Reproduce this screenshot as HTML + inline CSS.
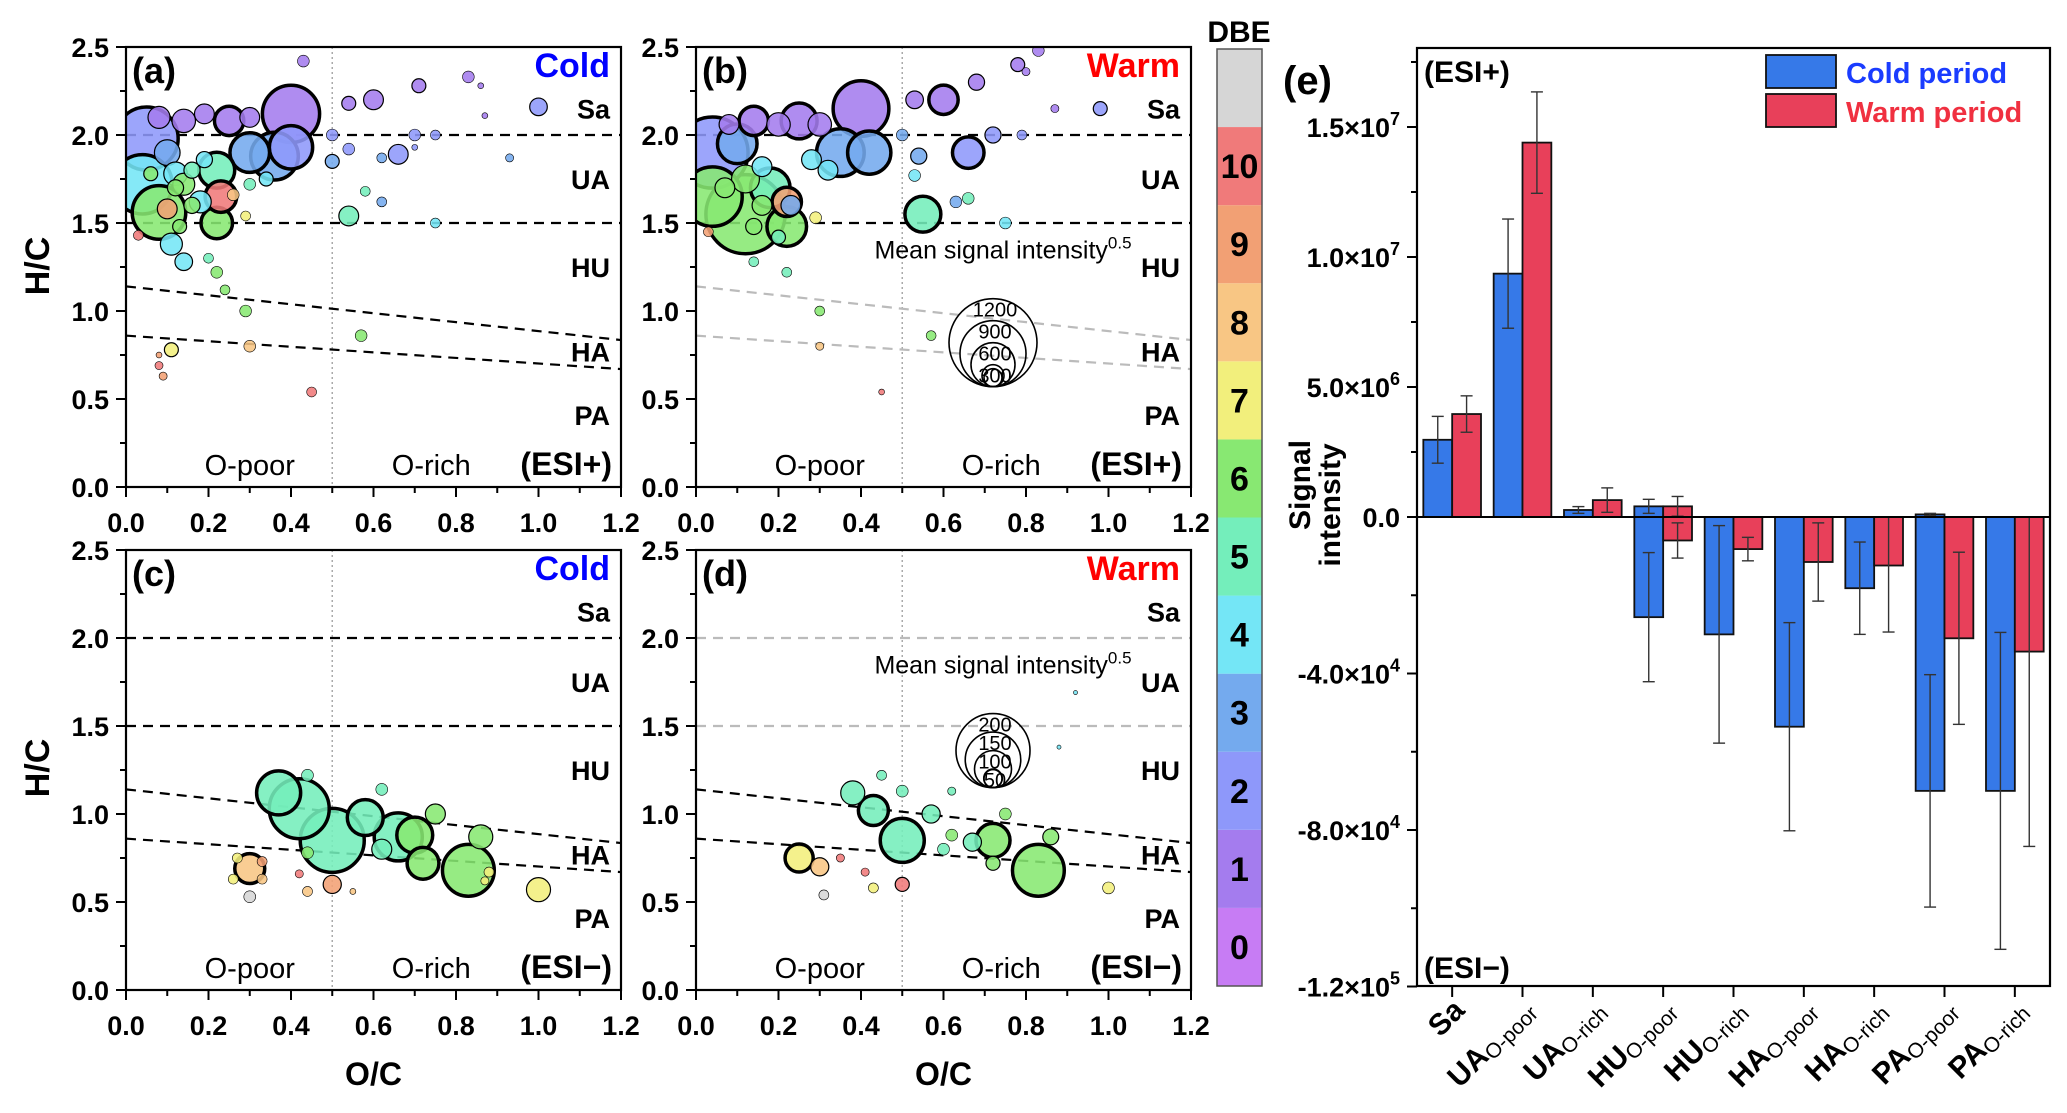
<!DOCTYPE html>
<html><head><meta charset="utf-8">
<style>
html,body{margin:0;padding:0;background:#fff;}
svg{display:block;font-family:"Liberation Sans",Arial,sans-serif;}
.tk{font-size:27px;font-weight:bold;fill:#000;}
.rl{font-size:27px;font-weight:bold;fill:#000;}
</style></head>
<body>
<svg id="fig" width="2067" height="1113" viewBox="0 0 2067 1113" xmlns="http://www.w3.org/2000/svg">
<rect width="2067" height="1113" fill="#fff"/>
</svg>
<script>
// ---------- Scatter data (O/C, H/C, mean signal intensity^0.5, DBE) ----------
const aOC=[0.05,0.04,0.08,0.40,0.36,0.40,0.30,0.22,0.22,0.25,0.10,0.23,0.14,0.08,0.19,0.30,0.12,0.18,0.11,0.14,0.14,0.10,0.54,0.66,1.00,0.60,0.54,0.71,0.83,0.43,0.50,0.34,0.30,0.26,0.29,0.22,0.29,0.24,0.20,0.11,0.30,0.57,0.45,0.03,0.08,0.09,0.08,0.62,0.58,0.75,0.70,0.75,0.50,0.54,0.62,0.93,0.70,0.86,0.87,0.19,0.16,0.06,0.12,0.16,0.13];
const aHC=[1.98,1.72,1.56,2.12,1.88,1.93,1.90,1.80,1.50,2.08,1.90,1.65,2.08,2.10,2.12,2.10,1.78,1.62,1.38,1.28,1.72,1.58,1.54,1.89,2.16,2.20,2.18,2.28,2.33,2.42,1.85,1.75,1.72,1.66,1.54,1.22,1.00,1.12,1.30,0.78,0.80,0.86,0.54,1.43,0.69,0.63,0.75,1.62,1.68,1.50,2.00,2.00,2.00,1.92,1.87,1.87,1.93,2.28,2.11,1.86,1.80,1.78,1.70,1.60,1.48];
const aVal=[860,810,730,780,650,590,540,490,430,400,350,430,320,300,270,270,320,300,300,240,300,270,270,270,240,270,190,190,160,160,190,190,160,160,135,160,160,135,135,190,160,160,135,135,110,110,80,135,135,135,160,135,160,160,135,110,80,80,80,220,220,190,220,220,190];
const aDBE=[2,4,6,1,3,2,3,5,6,1,3,10,1,1,1,1,4,4,4,4,6,9,5,2,2,1,1,1,1,1,3,4,5,8,7,6,6,6,5,7,8,6,10,10,10,9,9,3,5,4,2,2,2,2,3,3,2,1,1,4,5,6,6,6,6];

const bOC=[0.04,0.12,0.04,0.40,0.35,0.42,0.22,0.18,0.25,0.14,0.10,0.22,0.23,0.12,0.55,0.66,0.60,0.53,0.68,0.78,0.83,0.80,0.87,0.98,0.50,0.72,0.79,0.54,0.53,0.66,0.75,0.63,0.29,0.03,0.30,0.57,0.30,0.22,0.14,0.45,0.30,0.20,0.08,0.32,0.28,0.16,0.07,0.16,0.14,0.20];
const bHC=[1.90,1.55,1.65,2.15,1.90,1.90,1.48,1.70,2.08,2.08,1.95,1.62,1.60,1.75,1.55,1.90,2.20,2.20,2.30,2.40,2.48,2.36,2.15,2.15,2.00,2.00,2.00,1.88,1.77,1.64,1.50,1.62,1.53,1.45,0.80,0.86,1.00,1.22,1.28,0.54,2.06,2.06,2.06,1.80,1.86,1.82,1.70,1.60,1.48,1.42];
const bVal=[970,1080,810,760,650,590,540,540,490,400,540,400,270,380,490,430,400,240,220,190,160,110,110,190,160,220,135,220,160,160,160,160,160,135,110,135,135,135,135,80,320,320,270,270,270,270,270,270,220,190];
const bDBE=[2,6,6,1,3,3,6,5,1,1,3,9,3,6,5,2,1,1,1,1,1,1,1,2,3,2,2,3,4,5,4,3,7,9,8,6,6,5,5,10,1,1,1,4,4,4,6,6,6,5];

const cOC=[0.37,0.42,0.50,0.58,0.66,0.70,0.72,0.83,0.86,0.75,0.62,0.30,1.00,0.50,0.30,0.27,0.26,0.33,0.33,0.44,0.42,0.44,0.55,0.62,0.44,0.88,0.87];
const cHC=[1.12,1.03,0.85,0.98,0.87,0.88,0.72,0.68,0.87,1.00,0.80,0.69,0.57,0.60,0.53,0.75,0.63,0.63,0.73,0.78,0.66,0.56,0.56,1.14,1.22,0.67,0.62];
const cVal=[119,162,173,97,130,97,86,140,65,54,54,81,65,49,32,27,27,27,27,32,22,27,16,32,32,27,22];
const cDBE=[5,5,5,5,5,6,6,6,6,6,5,8,7,9,11,7,7,8,9,6,10,8,8,5,5,7,7];

const dOC=[0.38,0.43,0.50,0.57,0.72,0.83,0.67,0.25,0.30,0.50,0.31,1.00,0.75,0.50,0.45,0.62,0.62,0.86,0.72,0.60,0.35,0.41,0.43,0.92,0.88];
const dHC=[1.12,1.02,0.85,1.00,0.85,0.68,0.84,0.75,0.70,0.60,0.54,0.58,1.00,1.13,1.22,1.13,0.88,0.87,0.72,0.80,0.75,0.67,0.58,1.69,1.38];
const dVal=[65,81,119,49,92,140,49,76,49,38,27,32,32,32,27,22,32,43,38,32,22,22,27,11,11];
const dDBE=[5,5,5,5,6,6,5,7,8,10,11,7,6,5,5,5,6,6,6,5,10,10,7,4,4];

const sizeLegendPos=[1200,900,600,300];
const sizeLegendNeg=[200,150,100,50];
const xTicks=[0,0.2,0.4,0.6,0.8,1.0,1.2];
const yTicks=[0,0.5,1.0,1.5,2.0,2.5];
const dbeLevels=[0,1,2,3,4,5,6,7,8,9,10];

// ---------- Bar data ----------
const barCats=["Sa","UA","UA","HU","HU","HA","HA","PA","PA"];
const barSubs=["","O-poor","O-rich","O-poor","O-rich","O-poor","O-rich","O-poor","O-rich"];
const posCold=[2.97e6,9.36e6,0.27e6,0.41e6,0,0,0,0.10e6,0];
const posColdErr=[0.9e6,2.1e6,0.13e6,0.27e6,0,0,0,0.04e6,0];
const posWarm=[3.96e6,14.4e6,0.65e6,0.41e6,0,0,0,0,0];
const posWarmErr=[0.7e6,1.95e6,0.47e6,0.38e6,0,0,0,0,0];
const negCold=[0,0,0,2.56e4,3.0e4,5.36e4,1.82e4,7.0e4,7.0e4];
const negColdErr=[0,0,0,1.65e4,2.78e4,2.66e4,1.18e4,2.97e4,4.05e4];
const negWarm=[0,0,0,0.6e4,0.82e4,1.15e4,1.24e4,3.1e4,3.44e4];
const negWarmErr=[0,0,0,0.45e4,0.3e4,1.0e4,1.7e4,2.2e4,4.98e4];
const posTicks=[5e6,1e7,1.5e7];
const posTickLabels=["5.0×10","1.0×10","1.5×10"];
const posTickExp=["6","7","7"];
const negTicks=[4e4,8e4,1.2e5];
const negTickLabels=["-4.0×10","-8.0×10","-1.2×10"];
const negTickExp=["4","4","5"];

const DBE_COL=["#c77cf4","#a47cee","#8e98fa","#74aaee","#74e6f6","#74eebb","#88e872","#f2ef7c","#f8c684","#f2a074","#f07a7a","#d6d6d6"];
const NS="http://www.w3.org/2000/svg";
const svg=document.getElementById('fig');
function mk(tag,attrs,parent,text){const e=document.createElementNS(NS,tag);for(const k in attrs)e.setAttribute(k,attrs[k]);if(text!==undefined)e.textContent=text;(parent||svg).appendChild(e);return e;}

function panel(cfg){
  const {x0,x1,yT,yB,oc,hc,val,dbe,rk,id,period,periodCol,esi,letter,grayTop,grayLow,legend,legendY,showXTitle}=cfg;
  const g=mk('g',{}, svg);
  
  
  const X=v=>x0+v/1.2*(x1-x0), Y=v=>yB-v/2.5*(yB-yT);
  const cid='clip'+id;
  const cp=mk('clipPath',{id:cid},g); mk('rect',{x:x0,y:yT,width:x1-x0,height:yB-yT},cp);
  const dv=mk('line',{x1:X(0.5),y1:yT,x2:X(0.5),y2:yB,stroke:'#aaa','stroke-width':1.5,'stroke-dasharray':'2,3'},g);
   
  const bl=[[0,2.0,1.2,2.0,grayTop],[0,1.5,1.2,1.5,grayTop],[0,1.14,1.2,0.835,grayLow],[0,0.86,1.2,0.67,grayLow]];
  bl.forEach((b,i)=>{const l=mk('line',{x1:X(b[0]),y1:Y(b[1]),x2:X(b[2]),y2:Y(b[3]),stroke:b[4]?'#bbb':'#000','stroke-width':2.2,'stroke-dasharray':'10,7'},g);
     });
  const bg=mk('g',{'clip-path':'url(#'+cid+')'},g);
  const idx=oc.map((_,i)=>i).sort((p,q)=>val[q]-val[p]);
  idx.forEach(i=>{const r=val[i]*rk;
    const c=mk('circle',{cx:X(oc[i]),cy:Y(hc[i]),r:r,fill:DBE_COL[dbe[i]],'fill-opacity':0.88,stroke:'#000','stroke-width':r>14?3.5:(r>6?1.2:0.6)},bg);
     });
  const fr=mk('rect',{x:x0,y:yT,width:x1-x0,height:yB-yT,fill:'none',stroke:'#000','stroke-width':2.2},g);
   
  for(let k=0;k<=12;k++){const v=k*0.1;const L=k%2==0?10:6;mk('line',{x1:X(v),y1:yB,x2:X(v),y2:yB+L,stroke:'#000','stroke-width':2},g);}
  for(let k=0;k<=10;k++){const v=k*0.25;const L=k%2==0?10:6;mk('line',{x1:x0-L,y1:Y(v),x2:x0,y2:Y(v),stroke:'#000','stroke-width':2},g);}
  xTicks.forEach(v=>{const t=mk('text',{x:X(v),y:yB+45,'text-anchor':'middle',class:'tk'},g,v.toFixed(1));});
  yTicks.forEach(v=>{const t=mk('text',{x:x0-17,y:Y(v)+10,'text-anchor':'end',class:'tk'},g,v.toFixed(1));});
  const lt=mk('text',{x:x0+6,y:yT+36,'font-size':36,'font-weight':'bold'},g,'('+letter+')');
  const pt=mk('text',{x:x1-11,y:yT+30,'text-anchor':'end','font-size':34,'font-weight':'bold',fill:periodCol},g,period);
  [['Sa',2.15],['UA',1.75],['HU',1.25],['HA',0.77],['PA',0.41]].forEach(r=>{const t=mk('text',{x:x1-11,y:Y(r[1])+10,'text-anchor':'end',class:'rl'},g,r[0]);});
  const et=mk('text',{x:x1-9,y:yB-12,'text-anchor':'end','font-size':32,'font-weight':'bold'},g,esi);
  const op=mk('text',{x:X(0.3),y:yB-12,'text-anchor':'middle','font-size':29},g,'O-poor');
  const orr=mk('text',{x:X(0.74),y:yB-12,'text-anchor':'middle','font-size':29},g,'O-rich');
  if(legend){
    const lg=mk('g',{},g);  
    const cx=X(0.72), by=Y(legendY);
    const tt=mk('text',{x:cx+10,y:by-2*legend[0]*rk-40,'text-anchor':'middle','font-size':25},lg);
    tt.textContent='Mean signal intensity'; mk('tspan',{'font-size':17,dy:-10},tt,'0.5');
    legend.forEach(v=>{const r=v*rk;mk('circle',{cx:cx,cy:by-r,r:r,fill:'none',stroke:'#000','stroke-width':1.6},lg);
      const t=mk('text',{x:cx+2,y:by-2*r+18,'text-anchor':'middle','font-size':20},lg,String(v));});
    mk('circle',{cx:cx,cy:by-9,r:9,fill:'none',stroke:'#000','stroke-width':1.6},lg);
  }
  if(showXTitle){const t=mk('text',{x:(x0+x1)/2,y:1085,'text-anchor':'middle','font-size':32,'font-weight':'bold'},svg,'O/C');}
}
const RK_POS=44/1200, RK_NEG=37/200;
panel({x0:126,x1:621,yT:47,yB:487,oc:aOC,hc:aHC,val:aVal,dbe:aDBE,rk:RK_POS,id:'a',period:'Cold',periodCol:'#0000ff',esi:'(ESI+)',letter:'a',grayTop:false,grayLow:false});
panel({x0:696,x1:1191,yT:47,yB:487,oc:bOC,hc:bHC,val:bVal,dbe:bDBE,rk:RK_POS,id:'b',period:'Warm',periodCol:'#ff0000',esi:'(ESI+)',letter:'b',grayTop:false,grayLow:true,legend:sizeLegendPos,legendY:0.57});
panel({x0:126,x1:621,yT:550,yB:990,oc:cOC,hc:cHC,val:cVal,dbe:cDBE,rk:RK_NEG,id:'c',period:'Cold',periodCol:'#0000ff',esi:'(ESI−)',letter:'c',grayTop:false,grayLow:false,showXTitle:true});
panel({x0:696,x1:1191,yT:550,yB:990,oc:dOC,hc:dHC,val:dVal,dbe:dDBE,rk:RK_NEG,id:'d',period:'Warm',periodCol:'#ff0000',esi:'(ESI−)',letter:'d',grayTop:true,grayLow:false,legend:sizeLegendNeg,legendY:1.15,showXTitle:true});
[[266],[768]].forEach(p=>{const t=mk('text',{x:0,y:0,'text-anchor':'middle','font-size':34,'font-weight':'bold',transform:'translate(49,'+p[0]+') rotate(-90)'},svg,'H/C');});

// ---------- Color bar ----------
(function(){
  const g=mk('g',{});  
  const x=1217,w=45,top=49,bot=986,h=(bot-top)/12;
  mk('rect',{x:x,y:top,width:w,height:h,fill:DBE_COL[11]},g);
  dbeLevels.forEach(d=>{const y=bot-(d+1)*h;mk('rect',{x:x,y:y,width:w,height:h,fill:DBE_COL[d]},g);
    const t=mk('text',{x:x+w/2,y:y+h/2+12,'text-anchor':'middle','font-size':34,'font-weight':'bold'},g,String(d));});
  mk('rect',{x:x,y:top,width:w,height:bot-top,fill:'none',stroke:'#555','stroke-width':1.5},g);
  const t=mk('text',{x:x+22,y:42,'text-anchor':'middle','font-size':30,'font-weight':'bold'},g,'DBE');
})();

// ---------- Bar chart ----------
(function(){
  const g=mk('g',{});  
  const L=1417,R=2050,T=48,B=986,Z=517;
  const yP=v=>Z-v/5e6*130, yN=v=>Z+v/4e4*156.5;
  const gw=(R-L)/barCats.length, bw=gw*0.41;
  const cx=i=>L+(i+0.5)*gw;
  function bar(x,y1,y2,col,name){const r=mk('rect',{x:x,y:Math.min(y1,y2),width:bw,height:Math.abs(y2-y1),fill:col,stroke:'#111','stroke-width':1.8},g);}
  function err(x,y1,y2){if(Math.abs(y2-y1)<0.5)return;mk('line',{x1:x,y1:y1,x2:x,y2:y2,stroke:'#333','stroke-width':1.4},g);mk('line',{x1:x-6,y1:y1,x2:x+6,y2:y1,stroke:'#333','stroke-width':1.4},g);mk('line',{x1:x-6,y1:y2,x2:x+6,y2:y2,stroke:'#333','stroke-width':1.4},g);}
  barCats.forEach((c,i)=>{
    const xc=cx(i);
    if(posCold[i]>0){bar(xc-bw,Z,yP(posCold[i]),'#3679e8','bar-cold-esi-pos');err(xc-bw/2,yP(posCold[i]+posColdErr[i]),yP(posCold[i]-posColdErr[i]));}
    if(posWarm[i]>0){bar(xc,Z,yP(posWarm[i]),'#e8405a','bar-warm-esi-pos');err(xc+bw/2,yP(posWarm[i]+posWarmErr[i]),yP(posWarm[i]-posWarmErr[i]));}
    if(negCold[i]>0){bar(xc-bw,Z,yN(negCold[i]),'#3679e8','bar-cold-esi-neg');err(xc-bw/2,yN(Math.max(negCold[i]-negColdErr[i],0)),yN(negCold[i]+negColdErr[i]));}
    if(negWarm[i]>0){bar(xc,Z,yN(negWarm[i]),'#e8405a','bar-warm-esi-neg');err(xc+bw/2,yN(Math.max(negWarm[i]-negWarmErr[i],0)),yN(negWarm[i]+negWarmErr[i]));}
    mk('line',{x1:xc,y1:B,x2:xc,y2:B+11,stroke:'#000','stroke-width':2},g);
    const t=mk('text',{x:0,y:0,'text-anchor':'end','font-size':30,'font-weight':'bold',transform:'translate('+(xc+14)+','+(B+26)+') rotate(-45)'},g,c);
    if(barSubs[i]){mk('tspan',{'font-size':21,'font-weight':'normal',dy:4},t,barSubs[i]);}
    
  });
  mk('line',{x1:L,y1:Z,x2:R,y2:Z,stroke:'#000','stroke-width':2},g);
  mk('rect',{x:L,y:T,width:R-L,height:B-T,fill:'none',stroke:'#000','stroke-width':2.2},g);
  function ytick(y,lab,exp){mk('line',{x1:L-10,y1:y,x2:L,y2:y,stroke:'#000','stroke-width':2},g);
    if(lab!==null){const t=mk('text',{x:L-17,y:y+10,'text-anchor':'end','font-size':27,'font-weight':'bold'},g,lab);mk('tspan',{'font-size':18,dy:-12},t,exp);}}
  ytick(Z,null); {const t=mk('text',{x:L-17,y:Z+10,'text-anchor':'end','font-size':27,'font-weight':'bold'},g,'0.0');}
  posTicks.forEach((v,i)=>ytick(yP(v),posTickLabels[i],posTickExp[i]));
  negTicks.forEach((v,i)=>ytick(yN(v),negTickLabels[i],negTickExp[i]));
  [2.5e6,7.5e6,1.25e7,1.75e7].forEach(v=>mk('line',{x1:L-6,y1:yP(v),x2:L,y2:yP(v),stroke:'#000','stroke-width':2},g));
  [2e4,6e4,1e5].forEach(v=>mk('line',{x1:L-6,y1:yN(v),x2:L,y2:yN(v),stroke:'#000','stroke-width':2},g));
  const ta=mk('text',{x:0,y:0,'text-anchor':'middle','font-size':30,'font-weight':'bold',transform:'translate(1310,485) rotate(-90)'},g,'Signal');
  const tb=mk('text',{x:0,y:0,'text-anchor':'middle','font-size':30,'font-weight':'bold',transform:'translate(1340,505) rotate(-90)'},g,'intensity');
  const te=mk('text',{x:1283,y:94,'font-size':40,'font-weight':'bold'},g,'(e)');
  const t1=mk('text',{x:1424,y:82,'font-size':30,'font-weight':'bold'},g,'(ESI+)');
  const t2=mk('text',{x:1424,y:978,'font-size':30,'font-weight':'bold'},g,'(ESI−)');
  const lg=mk('g',{},g);  
  mk('rect',{x:1766,y:55,width:70,height:33,fill:'#3679e8',stroke:'#111','stroke-width':1.8},lg);
  mk('rect',{x:1766,y:94,width:70,height:33,fill:'#e8405a',stroke:'#111','stroke-width':1.8},lg);
  const l1=mk('text',{x:1846,y:83,'font-size':29,'font-weight':'bold',fill:'#1a3cff'},lg,'Cold period');
  const l2=mk('text',{x:1846,y:122,'font-size':29,'font-weight':'bold',fill:'#f03040'},lg,'Warm period');
})();
</script>
</body></html>
